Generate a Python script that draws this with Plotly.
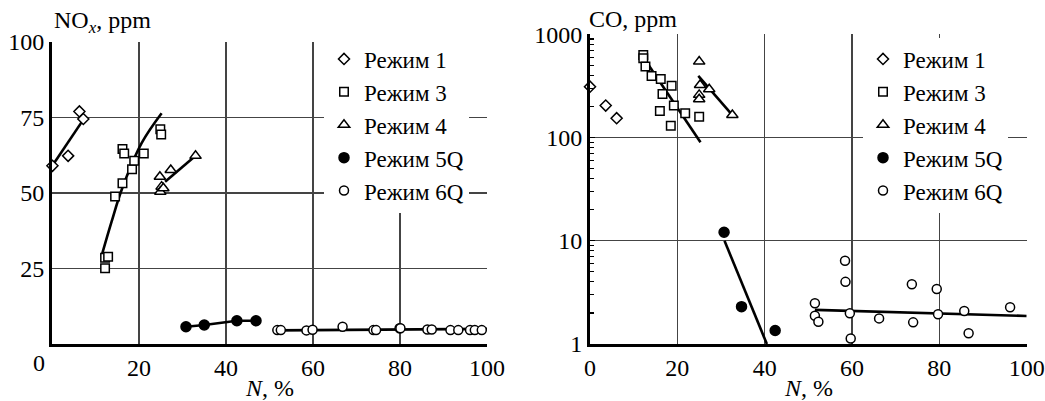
import plotly.graph_objects as go

FONT = "Liberation Serif, Times New Roman, DejaVu Serif, serif"
FS = 24
LEG_FS = 23

# ---------------- NOx panel data ----------------
nox_r1_x = [0.1, 3.7, 6.3, 7.2]
nox_r1_y = [59.0, 62.3, 77.0, 74.5]
nox_r1_fit_x = [0.3, 7.2]
nox_r1_fit_y = [59.5, 74.3]

nox_r3_x = [12.2, 12.9, 12.2, 14.5, 16.2, 16.2, 16.6, 18.4, 18.9, 21.1, 24.9, 25.1]
nox_r3_y = [28.6, 28.9, 25.1, 48.8, 53.2, 64.6, 63.1, 57.9, 60.7, 63.1, 71.1, 69.4]
nox_r3_fit_x = [11.4, 13.7, 16.0, 20.6, 25.2]
nox_r3_fit_y = [29.2, 40.5, 51.0, 66.5, 76.4]

nox_r4_x = [24.8, 25.2, 24.9, 25.6, 27.3, 33.0]
nox_r4_y = [55.4, 52.1, 50.4, 51.6, 57.6, 62.3]
nox_r4_fit_x = [26.0, 33.0]
nox_r4_fit_y = [53.7, 62.3]

nox_r5_x = [30.8, 35.0, 42.5, 46.9]
nox_r5_y = [5.7, 6.3, 7.7, 7.7]

nox_r6_x = [51.8, 52.6, 58.5, 59.9, 66.8, 73.9, 74.5, 79.9, 80.1, 86.3, 87.3, 91.6, 93.4, 96.1, 97.2, 98.8, 100.2]
nox_r6_y = [4.6, 4.6, 4.5, 4.7, 5.7, 4.6, 4.6, 5.2, 5.2, 4.8, 4.8, 4.6, 4.6, 4.6, 4.6, 4.6, 4.6]
nox_r6_fit_x = [51.8, 100.2]
nox_r6_fit_y = [4.5, 5.0]

# ---------------- CO panel data ----------------
co_r1_x = [0.0, 3.6, 6.1]
co_r1_y = [311, 204, 154]

co_r3_x = [12.2, 12.2, 12.7, 14.1, 16.2, 18.7, 16.6, 19.2, 16.0, 18.5, 21.8, 25.0]
co_r3_y = [631, 586, 487, 395, 370, 318, 264, 204, 181, 130, 172, 159]
co_r3_fit_x = [13.4, 25.3]
co_r3_fit_y = [505, 90]

co_r4_x = [25.0, 25.2, 25.0, 25.0, 27.3, 32.6]
co_r4_y = [544, 323, 259, 235, 294, 165]
co_r4_fit_x = [24.8, 32.6]
co_r4_fit_y = [395, 165]

co_r5_x = [30.7, 34.7, 42.4]
co_r5_y = [12.1, 2.3, 1.35]
co_r5_fit_x = [30.8, 40.5]
co_r5_fit_y = [10.0, 1.0]

co_r6_x = [58.4, 58.5, 51.5, 51.5, 52.3, 59.5, 59.7, 66.2, 73.7, 74.0, 79.4, 79.7, 85.7, 86.7, 96.2]
co_r6_y = [6.4, 4.0, 2.48, 1.88, 1.64, 1.98, 1.13, 1.77, 3.79, 1.62, 3.41, 1.94, 2.09, 1.27, 2.27]
co_r6_fit_x = [51.5, 100.0]
co_r6_fit_y = [2.14, 1.87]

names = ["Режим 1", "Режим 3", "Режим 4", "Режим 5Q", "Режим 6Q"]
x_ticks = [20, 40, 60, 80, 100]
nox_ticks = [25, 50, 75, 100]
co_ticks = [1, 10, 100, 1000]

symbols = ["diamond", "square", "triangle-up", "circle", "circle"]
sizes = [8.5, 8.5, 10, 10, 9]
fills = ["white", "white", "white", "black", "white"]

fig = go.Figure()

LINE = dict(color="black", width=2.6)


def add_fit(x, y, xa, ya, shape="linear"):
    fig.add_trace(go.Scatter(x=x, y=y, mode="lines", line=dict(LINE, shape=shape),
                             xaxis=xa, yaxis=ya, showlegend=False, hoverinfo="skip",
                             cliponaxis=False))


def add_pts(x, y, i, xa, ya, legend):
    fig.add_trace(go.Scatter(x=x, y=y, mode="markers", name=names[i],
                             marker=dict(symbol=symbols[i], size=sizes[i], color=fills[i],
                                         line=dict(color="black", width=1.5)),
                             xaxis=xa, yaxis=ya, legend=legend, cliponaxis=False))


# NOx panel
add_fit(nox_r1_fit_x, nox_r1_fit_y, "x", "y")
add_fit(nox_r3_fit_x, nox_r3_fit_y, "x", "y", "spline")
add_fit(nox_r4_fit_x, nox_r4_fit_y, "x", "y")
add_fit(nox_r5_x, nox_r5_y, "x", "y")
add_fit(nox_r6_fit_x, nox_r6_fit_y, "x", "y")
for i, (xx, yy) in enumerate([(nox_r1_x, nox_r1_y), (nox_r3_x, nox_r3_y), (nox_r4_x, nox_r4_y),
                              (nox_r5_x, nox_r5_y), (nox_r6_x, nox_r6_y)]):
    add_pts(xx, yy, i, "x", "y", "legend")

# CO panel
add_fit(co_r3_fit_x, co_r3_fit_y, "x2", "y2")
add_fit(co_r4_fit_x, co_r4_fit_y, "x2", "y2")
add_fit(co_r5_fit_x, co_r5_fit_y, "x2", "y2")
add_fit(co_r6_fit_x, co_r6_fit_y, "x2", "y2")
for i, (xx, yy) in enumerate([(co_r1_x, co_r1_y), (co_r3_x, co_r3_y), (co_r4_x, co_r4_y),
                              (co_r5_x, co_r5_y), (co_r6_x, co_r6_y)]):
    add_pts(xx, yy, i, "x2", "y2", "legend2")

W, H = 1045, 401
GRID = "#444444"
tickfont = dict(family=FONT, size=FS, color="black")

common_x = dict(range=[0, 100], tickvals=x_ticks, showgrid=True, gridcolor=GRID, gridwidth=1.4,
                showline=True, linecolor="black", linewidth=3, zeroline=False, automargin=False,
                ticks="", tickfont=tickfont, fixedrange=True)

minor_vals = [m * 10 ** d for d in range(3) for m in range(2, 10)]

legend_common = dict(bgcolor="white", borderwidth=0, font=dict(family=FONT, size=LEG_FS, color="black"),
                     xanchor="left", yanchor="middle", y=(H - 125) / H, itemsizing="trace",
                     tracegroupgap=0)

fig.update_layout(
    width=W, height=H, margin=dict(l=0, r=0, t=0, b=0, pad=0, autoexpand=False),
    paper_bgcolor="white", plot_bgcolor="white",
    font=dict(family=FONT, size=FS, color="black"),
    xaxis=dict(common_x, domain=[52 / W, 487 / W], anchor="y",
               tickvals=x_ticks),
    yaxis=dict(range=[0, 100], tickvals=nox_ticks, domain=[(H - 344) / H, (H - 42) / H], anchor="x",
               showgrid=True, gridcolor=GRID, gridwidth=1.4, showline=True, linecolor="black",
               linewidth=3, zeroline=False, ticks="", tickfont=tickfont, fixedrange=True,
               automargin=False),
    xaxis2=dict(common_x, domain=[590 / W, 1026.7 / W], anchor="y2",
                tickvals=[0] + x_ticks),
    yaxis2=dict(type="log", range=[0, 3], tickvals=co_ticks, ticktext=["1", "10", "100", "1000"],
                domain=[(H - 344) / H, (H - 34.3) / H], anchor="x2",
                showgrid=True, gridcolor=GRID, gridwidth=1.4, showline=True, linecolor="black",
                linewidth=3, zeroline=False, ticks="inside", ticklen=5, tickcolor="black",
                tickfont=tickfont, fixedrange=True, automargin=False,
                minor=dict(tickvals=minor_vals, ticks="inside", ticklen=4, tickcolor="black",
                           tickwidth=1.2, showgrid=False)),
    legend=dict(legend_common, x=324 / W),
    legend2=dict(legend_common, x=863 / W),
    showlegend=True,
)

annos = [
    dict(text="NO<sub><i>x</i></sub>, ppm", xref="paper", yref="paper", x=52 / W, y=(H - 22) / H,
         xanchor="left", yanchor="middle", showarrow=False, font=dict(family=FONT, size=FS)),
    dict(text="CO, ppm", xref="paper", yref="paper", x=587 / W, y=(H - 19) / H,
         xanchor="left", yanchor="middle", showarrow=False, font=dict(family=FONT, size=FS)),
    dict(text="<i>N</i>, %", xref="x domain", yref="paper", x=0.5, y=(H - 388) / H,
         xanchor="center", yanchor="middle", showarrow=False, font=dict(family=FONT, size=FS)),
    dict(text="<i>N</i>, %", xref="x2 domain", yref="paper", x=0.5, y=(H - 388) / H,
         xanchor="center", yanchor="middle", showarrow=False, font=dict(family=FONT, size=FS)),
    dict(text="0", xref="x", yref="paper", x=0, xshift=-13, y=(H - 363) / H,
         xanchor="center", yanchor="middle", showarrow=False, font=dict(family=FONT, size=FS)),
]
fig.update_layout(annotations=annos)

fig.write_html("out.html", config={"displayModeBar": False, "staticPlot": True},
               post_script="document.body.style.margin='0';document.body.style.padding='0';"
                           "document.documentElement.style.overflow='hidden';")
